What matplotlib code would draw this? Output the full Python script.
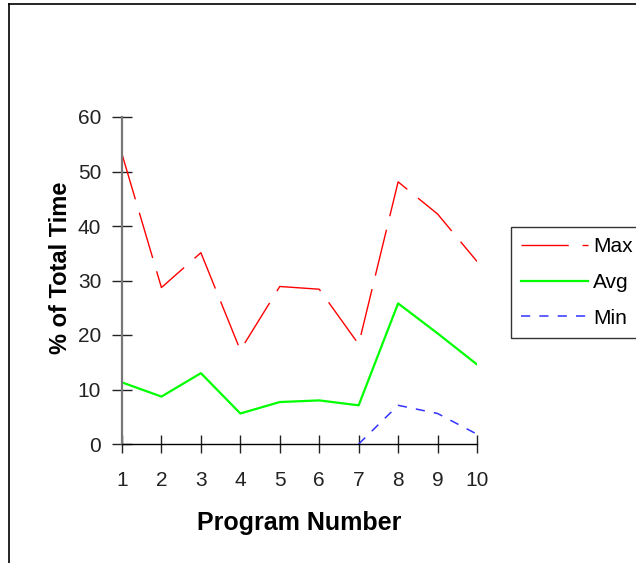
import numpy as np
import matplotlib
matplotlib.use("Agg")
import matplotlib.pyplot as plt
from matplotlib.lines import Line2D

plt.rcParams['font.family'] = ['Liberation Sans', 'DejaVu Sans']

programs = [1, 2, 3, 4, 5, 6, 7, 8, 9, 10]
max_vals = [53.2, 28.7, 35.1, 17.2, 28.9, 28.4, 18.3, 48.1, 42.2, 33.5]
avg_vals = [11.3, 8.7, 13.0, 5.6, 7.7, 8.0, 7.1, 25.8, 20.3, 14.6]
min_vals = [np.nan, np.nan, np.nan, np.nan, np.nan, np.nan, 0.0, 7.1, 5.6, 1.8]
y_ticks = [0, 10, 20, 30, 40, 50, 60]

W, H = 636, 563
fig = plt.figure(figsize=(W / 100, H / 100), dpi=100)
ax = fig.add_axes([122 / W, 1 - 444 / H, (477 - 122) / W, (444 - 117) / H])

ax.plot(programs, max_vals, color='#ff0000', lw=1.0, dashes=(34, 10), label='Max')
ax.plot(programs, avg_vals, color='#00ff00', lw=1.6, label='Avg')
ax.plot(programs, min_vals, color='#3333ff', lw=1.1, dashes=(6, 6), label='Min')

ax.set_xlim(1, 10)
ax.set_ylim(0, 60)
ax.set_xticks(programs)
ax.set_yticks(y_ticks)

for side in ['top', 'right']:
    ax.spines[side].set_visible(False)
ax.spines['left'].set_color('#777777')
ax.spines['left'].set_linewidth(1.6)
ax.spines['bottom'].set_color('black')
ax.spines['bottom'].set_linewidth(1.0)

ax.tick_params(axis='x', direction='inout', length=13, width=1, pad=13, labelsize=15, colors='#222222')
ax.tick_params(axis='y', direction='inout', length=14, width=1, pad=8, labelsize=15, colors='#222222')

ax.set_xlabel('Program Number', fontsize=18, fontweight='bold')
ax.set_ylabel('% of Total Time', fontsize=17, fontweight='bold')
ax.xaxis.set_label_coords(0.5, -0.205)
ax.yaxis.set_label_coords(-0.14, 0.54)

leg = ax.legend(loc='upper left', bbox_to_anchor=(511 / W, 1 - 227 / H),
                bbox_transform=fig.transFigure, frameon=True, fancybox=False,
                fontsize=15, handlelength=3.2, handletextpad=0.25,
                labelspacing=0.8, borderpad=0.5, borderaxespad=0)
leg.get_frame().set_edgecolor('black')
leg.get_frame().set_linewidth(1.0)

# outer frame (cut off at right and bottom)
fig.add_artist(Line2D([9 / W, 9 / W], [0, 1 - 4 / H], color='black', lw=1.2, transform=fig.transFigure))
fig.add_artist(Line2D([9 / W, 1], [1 - 4 / H, 1 - 4 / H], color='black', lw=1.2, transform=fig.transFigure))

fig.savefig('out.png', dpi=100)
